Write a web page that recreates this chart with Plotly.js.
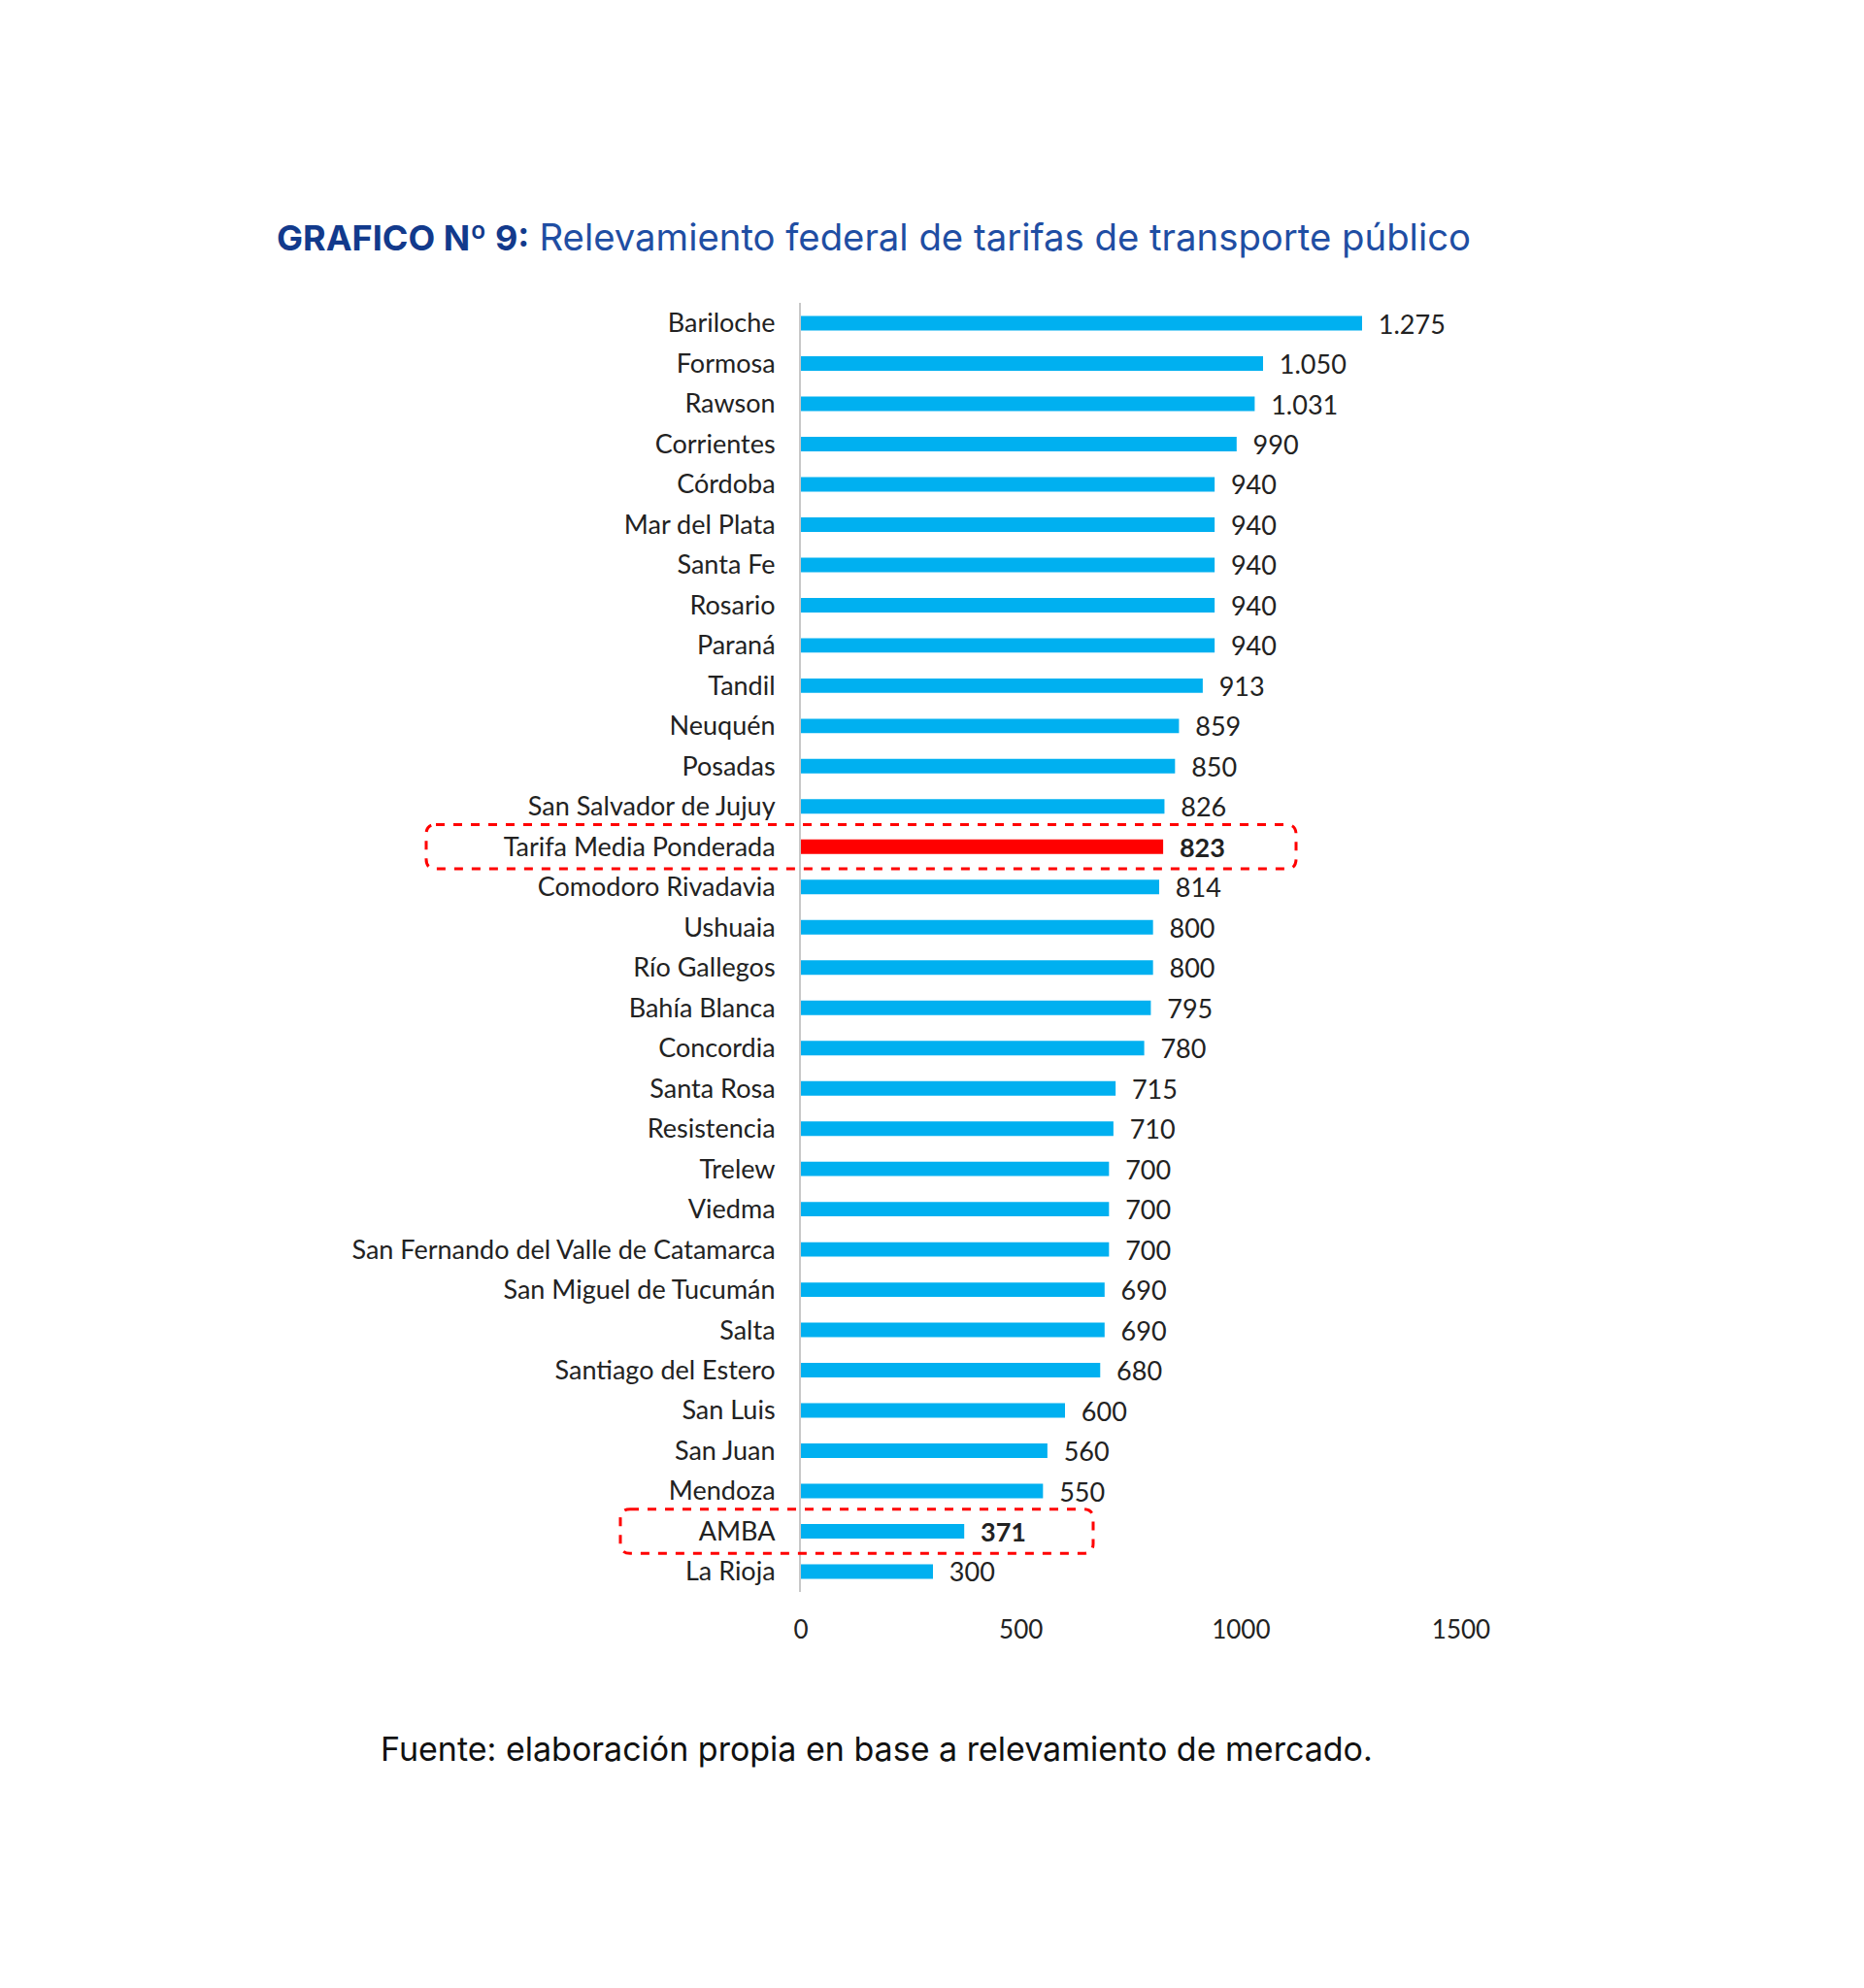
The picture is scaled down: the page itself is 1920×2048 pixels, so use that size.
<!DOCTYPE html>
<html>
<head>
<meta charset="utf-8">
<script src="https://cdn.plot.ly/plotly-3.0.1.min.js"></script>
<style>html,body{margin:0;padding:0;background:#fff;}#chart{width:1920px;height:2048px;}</style>
</head>
<body>
<div id="chart"></div>
<script>
const cities = ["Bariloche","Formosa","Rawson","Corrientes","Córdoba","Mar del Plata","Santa Fe","Rosario","Paraná","Tandil","Neuquén","Posadas","San Salvador de Jujuy","Tarifa Media Ponderada","Comodoro Rivadavia","Ushuaia","Río Gallegos","Bahía Blanca","Concordia","Santa Rosa","Resistencia","Trelew","Viedma","San Fernando del Valle de Catamarca","San Miguel de Tucumán","Salta","Santiago del Estero","San Luis","San Juan","Mendoza","AMBA","La Rioja"];
const fares = [1275,1050,1031,990,940,940,940,940,940,913,859,850,826,823,814,800,800,795,780,715,710,700,700,700,690,690,680,600,560,550,371,300];
const highlighted = ["Tarifa Media Ponderada","AMBA"];
const averageLabel = "Tarifa Media Ponderada";
const xTicks = [0,500,1000,1500];

const labelFont = "Lato, 'Open Sans', sans-serif";
const fmt = v => v >= 1000 ? Math.floor(v/1000) + "." + String(v%1000).padStart(3,"0") : String(v);
const pad = "\u00a0\u00a0";
const texts = cities.map((c,i) => highlighted.includes(c) ? pad + "<b>" + fmt(fares[i]) + "</b>" : pad + fmt(fares[i]));
const colors = cities.map(c => c === averageLabel ? "#ff0000" : "#00b0f0");

const yDomain = [0.19936, 0.84751];
const xDomain = [825/1920, 1505/1920];
const n = cities.length;
function rowToPaper(idx){
  const frac = (idx + 0.5) / n;
  return yDomain[1] - frac * (yDomain[1]-yDomain[0]);
}
function roundedBox(x0,x1,idx,halfRows){
  const W=1920,H=2048;
  const yc = rowToPaper(idx);
  const hh = halfRows * (yDomain[1]-yDomain[0]) / n;
  const y0 = yc - hh, y1 = yc + hh;
  const rx = 10/W, ry = 10/H;
  const a0 = x0/W, a1 = x1/W;
  return `M ${a0+rx},${y1} L ${a1-rx},${y1} Q ${a1},${y1} ${a1},${y1-ry} L ${a1},${y0+ry} Q ${a1},${y0} ${a1-rx},${y0} L ${a0+rx},${y0} Q ${a0},${y0} ${a0},${y0+ry} L ${a0},${y1-ry} Q ${a0},${y1} ${a0+rx},${y1} Z`;
}
const shapes = [
  {type:"path", xref:"paper", yref:"paper", path: roundedBox(439,1335,cities.indexOf("Tarifa Media Ponderada"),0.55), line:{color:"#ff0000", width:3, dash:"dash"}},
  {type:"path", xref:"paper", yref:"paper", path: roundedBox(639,1126,cities.indexOf("AMBA"),0.55), line:{color:"#ff0000", width:3, dash:"dash"}}
];

const trace = {
  type:"bar", orientation:"h",
  y: cities, x: fares,
  marker:{color: colors},
  text: texts, textposition:"outside", cliponaxis:false, constraintext:"none",
  textfont:{family: labelFont, size:27, color:"#222"},
  hoverinfo:"none"
};

const layout = {
  width:1920, height:2048,
  margin:{l:0,r:0,t:0,b:0},
  paper_bgcolor:"#fff", plot_bgcolor:"#fff",
  showlegend:false,
  bargap:0.64,
  title:{
    text:"<b>GRAFICO Nº 9:</b> <span style='color:#1f4ea3;font-size:38.3px'>Relevamiento federal de tarifas de transporte público</span>",
    font:{family:"Inter, 'Open Sans', sans-serif", size:36, color:"#123a8c"},
    xref:"container", yref:"container", x:285/1920, y:1-245/2048, xanchor:"left", yanchor:"middle"
  },
  xaxis:{
    domain:xDomain, range:[0,1500], tickvals:xTicks, ticktext:xTicks.map(String),
    showgrid:false, zeroline:false, showline:false, ticks:"",
    ticklabelstandoff:21,
    tickfont:{family:labelFont, size:26, color:"#222"}
  },
  yaxis:{
    domain:yDomain, type:"category", categoryorder:"array", categoryarray:cities,
    range:[n-0.5,-0.5],
    showgrid:false, zeroline:false, showline:true, linecolor:"#c8c8c8", linewidth:2,
    ticks:"", ticklabelstandoff:19,
    tickfont:{family:labelFont, size:27, color:"#222"}
  },
  shapes: shapes,
  annotations:[
    {text:"Fuente: elaboración propia en base a relevamiento de mercado.", xref:"paper", yref:"paper",
     x:390/1920, y:1-1801/2048, xanchor:"left", yanchor:"middle", showarrow:false,
     font:{family:"Inter, 'Open Sans', sans-serif", size:34, color:"#111"}}
  ]
};

Plotly.newPlot("chart",[trace],layout,{staticPlot:true, displayModeBar:false});
</script>
</body>
</html>
